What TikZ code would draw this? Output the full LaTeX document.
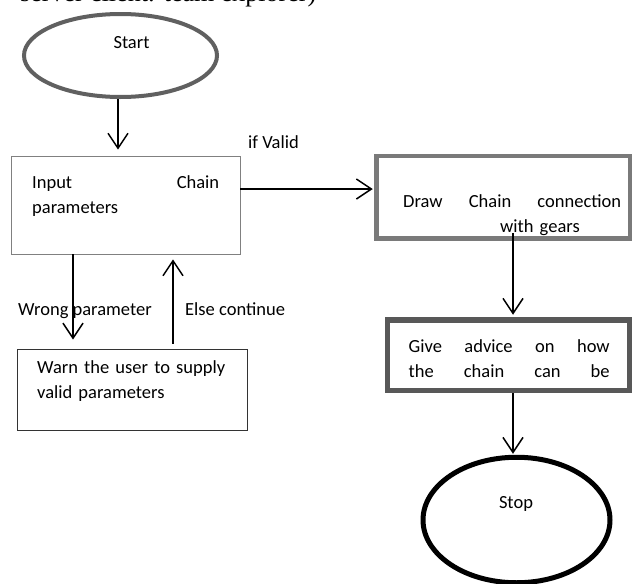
\documentclass[tikz,border=0pt]{standalone}
\usepackage{fontspec}
\setmainfont{Carlito}
\newfontfamily\timesf{Liberation Serif}
\usetikzlibrary{shapes.geometric,arrows.meta}
\definecolor{startgray}{HTML}{606060}
\definecolor{boxgray}{HTML}{808080}
\definecolor{drawgray}{HTML}{7A7A7A}
\definecolor{givegray}{HTML}{585858}
\tikzset{
  txt/.style={inner sep=0pt, font=\fontsize{18.5pt}{25.5pt}\selectfont, align=left},
  jtxt/.style={txt, text width=#1},
  flowbox/.style={rectangle, draw, inner sep=0pt},
  flowell/.style={ellipse, draw, inner sep=0pt},
  arr/.style={line width=1.5pt, -{Straight Barb[length=15pt,width=20pt,line width=1.5pt]}},
}
\begin{document}
\begin{tikzpicture}[x=1pt,y=-1pt]
\useasboundingbox (0,0) rectangle (633,584);
\clip (0,0) rectangle (633,584);
% clipped body text at the top
\node[inner sep=0pt, anchor=base west, font=\timesf\fontsize{26pt}{30pt}\selectfont] (toptext) at (20,1) {server client: team explorer)};
% shapes
\node[flowell, draw=startgray, line width=4pt, minimum width=193pt, minimum height=83pt] (start) at (120.5,55.5) {};
\node[flowbox, draw=boxgray, line width=0.8pt, minimum width=229pt, minimum height=98pt] (input) at (125.5,205) {};
\node[flowbox, draw=black!80, line width=1pt, minimum width=230pt, minimum height=81pt] (warn) at (132,389.5) {};
\node[flowbox, draw=drawgray, line width=4.5pt, minimum width=253.5pt, minimum height=82.5pt] (drawbox) at (503.25,197.25) {};
\node[flowbox, draw=givegray, line width=5.5pt, minimum width=242pt, minimum height=70.5pt] (give) at (508.5,355.25) {};
\node[flowell, draw=black, line width=5pt, minimum width=187pt, minimum height=125.5pt] (stop) at (516.5,520) {};
% texts
\node[txt, anchor=base] (startT) at (131.5,48) {Start};
\node[txt, anchor=base] (stopT) at (516,508) {Stop};
\node[jtxt=187pt, anchor=base west] (inputT) at (32,188) {Input\hfill Chain\\parameters};
\node[jtxt=200pt, anchor=base west] (warnT) at (37,373) {Warn the user to supply\\valid parameters};
\node[jtxt=218pt, anchor=base west] (drawT) at (403,207) {Draw\hfill Chain\hfill connection\\\hspace*{97pt}with gears};
\node[jtxt=201pt, anchor=base west] (giveT) at (408.5,352) {Give\hfill advice\hfill on\hfill how\\the\hfill chain\hfill can\hfill be};
\node[txt, anchor=base west] (validL) at (248,148) {if Valid};
\node[txt, anchor=base west] (wrongL) at (18,315) {Wrong parameter};
\node[txt, anchor=base west] (elseL) at (185,315) {Else continue};
% connectors
\draw[arr] ([xshift=-2.5pt]start.south) -- ([xshift=-7.5pt,yshift=6pt]input.north);
\draw[arr] ([yshift=16pt]input.east) -- ([xshift=-1.5pt,yshift=8.25pt]drawbox.west);
\draw[arr] ([xshift=9.75pt,yshift=8pt]drawbox.south) -- ([xshift=4.5pt,yshift=2.5pt]give.north);
\draw[arr] ([xshift=4.5pt]give.south) -- ([xshift=-3.5pt,yshift=1pt]stop.north);
\draw[arr] ([xshift=-52.5pt]input.south) -- ([xshift=-59pt,yshift=9pt]warn.north);
\draw[arr] ([xshift=41pt,yshift=5pt]warn.north) -- ([xshift=47.5pt,yshift=-5pt]input.south);
\end{tikzpicture}
\end{document}
